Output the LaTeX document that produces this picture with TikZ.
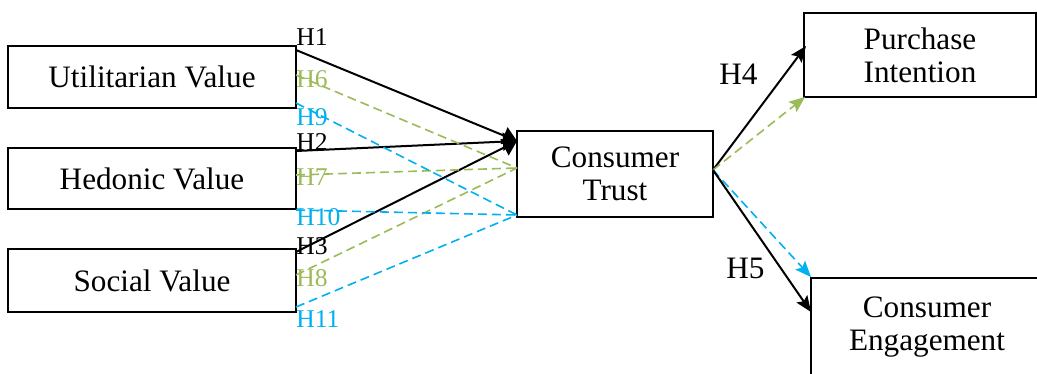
\documentclass[tikz,border=0pt]{standalone}
\usepackage{fontspec}
\setmainfont{Liberation Serif}
\usetikzlibrary{arrows.meta}
\definecolor{hgreen}{RGB}{155,187,89}
\definecolor{hblue}{RGB}{0,176,240}

\begin{document}
\begin{tikzpicture}[x=0.5pt,y=-0.5pt]
\tikzstyle{every node}=[inner sep=1pt]
\tikzstyle{box}=[draw,line width=0.7pt,align=center,font=\fontsize{15.6}{16.5}\selectfont]
\tikzstyle{hlab}=[inner sep=0pt,anchor=north west,font=\fontsize{12.8}{14}\selectfont]
\tikzstyle{hbig}=[inner sep=0pt,anchor=north west,font=\fontsize{15.6}{16}\selectfont]
\tikzstyle{solidarr}=[line width=1pt]
\tikzstyle{dasharr}=[line width=0.8pt,dash pattern=on 4.5pt off 2.5pt]
\useasboundingbox (0,0) rectangle (1037,374);
\clip (0,0) rectangle (1037,374);
% boxes
\node (uv) [box,minimum width=144pt,minimum height=31pt] at (152,77) {Utilitarian Value};
\node (hv) [box,minimum width=144pt,minimum height=30.5pt] at (152,178.5) {Hedonic Value};
\node (sv) [box,minimum width=144pt,minimum height=31.5pt] at (152,280.5) {Social Value};
\node (ct) [box,minimum width=98pt,minimum height=43pt] at (615,174) {Consumer\\Trust};
\node (pi) [box,minimum width=116pt,minimum height=42pt] at (920,55) {Purchase\\Intention};
\node (ce) [box,minimum width=116pt,minimum height=49pt] at (927,327) {Consumer\\Engagement};
% ends of the links
\coordinate (a1) at (296,50);
\coordinate (a6) at (296,75);
\coordinate (a9) at (296,103);
\coordinate (b2) at (296,151);
\coordinate (b7) at (296,175);
\coordinate (b10) at (296,210);
\coordinate (c3) at (296,252);
\coordinate (c8) at (296,275);
\coordinate (c11) at (296,307);
\coordinate (tk) at (517,141);
\coordinate (tg) at (517,168);
\coordinate (tb) at (517,215);
\coordinate (ts) at (713,170);
\coordinate (p4) at (806,46);
\coordinate (pg) at (805,97);
\coordinate (eb) at (811,277);
\coordinate (e5) at (811,312);
% direct links
\draw [solidarr,-{Triangle[length=7pt,width=9pt]}] (a1) -- (tk);
\draw [solidarr,-{Triangle[length=7pt,width=9pt]}] (b2) -- (tk);
\draw [solidarr,-{Triangle[length=7pt,width=9pt]}] (c3) -- (tk);
\draw [dasharr,hgreen] (a6) -- (tg);
\draw [dasharr,hgreen] (b7) -- (tg);
\draw [dasharr,hgreen] (c8) -- (tg);
\draw [dasharr,hblue] (a9) -- (tb);
\draw [dasharr,hblue] (b10) -- (tb);
\draw [dasharr,hblue] (c11) -- (tb);
\draw [solidarr,-{Stealth[length=8pt,width=6.5pt,inset=1.5pt]}] (ts) -- (p4);
\draw [dasharr,hgreen,-{Stealth[length=8pt,width=6.5pt,inset=1.5pt]}] (ts) -- (pg);
\draw [dasharr,hblue,-{Stealth[length=8pt,width=6.5pt,inset=1.5pt]}] (ts) -- (eb);
\draw [solidarr,-{Stealth[length=8pt,width=6.5pt,inset=1.5pt]}] (ts) -- (e5);
% labels
\node (l1) [hlab] at (296,28) {H1};
\node (l6) [hlab,hgreen] at (296,70) {H6};
\node (l9) [hlab,hblue] at (296,108) {H9};
\node (l2) [hlab] at (296,133) {H2};
\node (l7) [hlab,hgreen] at (296,168) {H7};
\node (l10) [hlab,hblue] at (296,208) {H10};
\node (l3) [hlab] at (296,237) {H3};
\node (l8) [hlab,hgreen] at (296,269) {H8};
\node (l11) [hlab,hblue] at (296,310) {H11};
\node (l4) [hbig] at (719,64) {H4};
\node (l5) [hbig] at (726,258) {H5};
\end{tikzpicture}
\end{document}
